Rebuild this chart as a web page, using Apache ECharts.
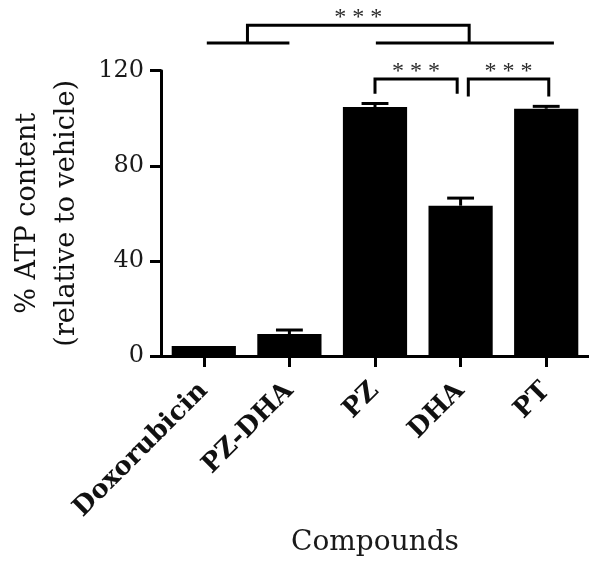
<!DOCTYPE html>
<html><head><meta charset="utf-8">
<script src="https://cdn.jsdelivr.net/npm/echarts@6/dist/echarts.min.js"></script>
<style>html,body{margin:0;padding:0;background:#fff}#c{width:589px;height:562px}</style>
</head><body><div id="c"></div>
<script>
// ---- data ----
const categories = ['Doxorubicin', 'PZ-DHA', 'PZ', 'DHA', 'PT'];
const meanValues = [4.2, 9.2, 104.7, 63.2, 104.0];
const errorValues = [0, 1.7, 1.5, 3.2, 1.0];
const yMin = 0, yMax = 120, yStep = 40;
const starText = '* * *';
// pairwise brackets: [xStart, xEnd (category units), yTop, yLegLeft, yLegRight (value units)]
const pairBrackets = [[2.0, 2.96, 116.5, 110.3, 110.3], [3.09, 4.03, 116.5, 109.1, 109.1]];
// group lines: [xStart, xEnd, y]
const groupLines = [[0.035, 1.0, 131.7], [2.01, 4.09, 131.7]];
// group bracket: [xLeft, xRight, yTop, yBottom]
const groupBracket = [0.51, 3.1, 139.1, 131.7];
const starOffset = 3.0; // value units above bracket top

const FONT = 'DejaVu Serif';
const chart = echarts.init(document.getElementById('c'), null, {renderer: 'canvas'});

function pt(api, x, y) {
  const a = api.coord([0, y]);
  const b = api.coord([1, y]);
  return [a[0] + (b[0] - a[0]) * x, a[1]];
}
const lineStyle = {stroke: '#000', lineWidth: 3, fill: null};
function poly(points) {
  return {type: 'polyline', shape: {points: points}, style: lineStyle};
}
function stars(api, x, y) {
  const p = pt(api, x, y);
  return {type: 'text', x: p[0], y: p[1], style: {text: starText, font: '24px "Liberation Serif"', fill: '#2a2a2a', align: 'center', verticalAlign: 'middle'}};
}

chart.setOption({
  backgroundColor: '#fff',
  animation: false,
  grid: {left: 159, right: 0, top: 70.7, bottom: 204.5, containLabel: false},
  xAxis: {
    type: 'category', data: categories,
    axisLine: {lineStyle: {color: '#000', width: 3}},
    axisTick: {show: true, alignWithLabel: true, length: 11, lineStyle: {color: '#000', width: 3}},
    axisLabel: {rotate: 45, margin: 31, fontFamily: FONT, fontWeight: 'bold', fontSize: 26, color: '#111'},
    name: 'Compounds', nameLocation: 'middle', nameGap: 163,
    nameTextStyle: {fontFamily: FONT, fontSize: 28, color: '#1a1a1a'}
  },
  yAxis: {
    type: 'value', min: yMin, max: yMax, interval: yStep,
    axisLine: {show: true, lineStyle: {color: '#000', width: 3}},
    axisTick: {show: true, length: 11, lineStyle: {color: '#000', width: 3}},
    splitLine: {show: false},
    axisLabel: {margin: 17, fontFamily: FONT, fontSize: 24, color: '#1a1a1a'},
    name: '% ATP content\n(relative to vehicle)', nameLocation: 'middle', nameGap: 75, nameRotate: 90,
    nameTextStyle: {fontFamily: FONT, fontSize: 27, color: '#111', lineHeight: 39}
  },
  series: [
    {type: 'bar', data: meanValues, barWidth: '75%', itemStyle: {color: '#000'}, z: 2},
    {
      type: 'custom', z: 3,
      data: meanValues.map((v, i) => [i, v, v + errorValues[i]]),
      renderItem: function (params, api) {
        const x = api.value(0);
        if (api.value(2) <= api.value(1)) return {type: 'group', children: []};
        const p1 = api.coord([x, api.value(1)]);
        const p2 = api.coord([x, api.value(2)]);
        const hw = api.size([1, 0])[0] * 0.157;
        return {type: 'group', children: [
          {type: 'line', shape: {x1: p1[0], y1: p1[1], x2: p2[0], y2: p2[1]}, style: {stroke: '#000', lineWidth: 3}},
          {type: 'line', shape: {x1: p2[0] - hw, y1: p2[1], x2: p2[0] + hw, y2: p2[1]}, style: {stroke: '#000', lineWidth: 3}}
        ]};
      }
    },
    {
      type: 'custom', z: 4, clip: false,
      data: [[0, 0]],
      renderItem: function (params, api) {
        const children = [];
        pairBrackets.forEach(b => {
          children.push(poly([pt(api, b[0], b[3]), pt(api, b[0], b[2]), pt(api, b[1], b[2]), pt(api, b[1], b[4])]));
          children.push(stars(api, (b[0] + b[1]) / 2, b[2] + starOffset));
        });
        groupLines.forEach(g => {
          children.push(poly([pt(api, g[0], g[2]), pt(api, g[1], g[2])]));
        });
        const gb = groupBracket;
        children.push(poly([pt(api, gb[0], gb[3]), pt(api, gb[0], gb[2]), pt(api, gb[1], gb[2]), pt(api, gb[1], gb[3])]));
        children.push(stars(api, (gb[0] + gb[1]) / 2, gb[2] + starOffset));
        return {type: 'group', children: children};
      }
    }
  ]
});
</script></body></html>
